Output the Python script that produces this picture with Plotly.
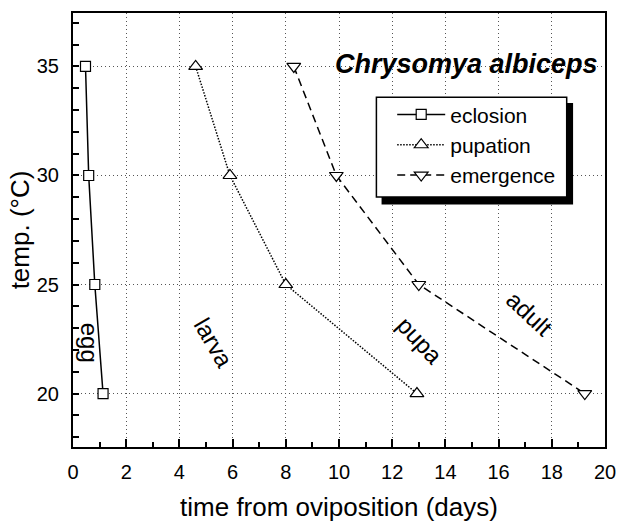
import plotly.graph_objects as go

temps = [35, 30, 25, 20]
eclosion = [0.47, 0.59, 0.82, 1.13]
pupation = [4.61, 5.9, 8.0, 12.93]
emergence = [8.3, 9.9, 13.0, 19.24]

stage_labels = ["egg", "larva", "pupa", "adult"]
stage_x = [0.62, 5.3, 13.05, 17.15]
stage_y = [22.31, 22.3, 22.44, 23.65]
stage_angles = [90, 60, 47, 43]

FONT = "Liberation Sans, Arial, sans-serif"

fig = go.Figure()
fig.add_trace(go.Scatter(x=eclosion, y=temps, name="eclosion", mode="lines+markers",
                         line=dict(color="black", width=1.5, dash="solid"),
                         marker=dict(symbol="square", size=10, color="white",
                                     line=dict(width=1.2, color="black"))))
fig.add_trace(go.Scatter(x=pupation, y=temps, name="pupation", mode="lines+markers",
                         line=dict(color="black", width=1.5, dash="1.5px,1.5px"),
                         marker=dict(symbol="triangle-up", size=12, color="white",
                                     line=dict(width=1.2, color="black"))))
fig.add_trace(go.Scatter(x=emergence, y=temps, name="emergence", mode="lines+markers",
                         line=dict(color="black", width=1.5, dash="8px,5px"),
                         marker=dict(symbol="triangle-down", size=12, color="white",
                                     line=dict(width=1.2, color="black"))))

for t, x, y, a in zip(stage_labels, stage_x, stage_y, stage_angles):
    fig.add_annotation(x=x, y=y, text=t, textangle=a, showarrow=False,
                       font=dict(family=FONT, size=24, color="black"))

fig.add_annotation(x=14.8, y=35.1, text="<b><i>Chrysomya albiceps</i></b>", showarrow=False,
                   font=dict(family=FONT, size=27, color="black"))

# legend shadow and box
fig.add_shape(type="rect", xref="paper", yref="paper", x0=0.580, x1=0.940, y0=0.5585, y1=0.7926,
              fillcolor="black", line=dict(width=0), layer="above")
fig.add_shape(type="rect", xref="paper", yref="paper", x0=0.5703, x1=0.928, y0=0.576, y1=0.8058,
              fillcolor="white", line=dict(width=1.5, color="black"), layer="above")

fig.update_layout(
    width=620, height=522,
    margin=dict(l=73, r=15, t=13, b=75),
    plot_bgcolor="white", paper_bgcolor="white",
    font=dict(family=FONT, size=20, color="black"),
    showlegend=True,
    legend=dict(x=0.6, y=0.8127, xanchor="left", yanchor="top", bgcolor="rgba(0,0,0,0)",
                borderwidth=0, font=dict(size=21),
                itemwidth=48, tracegroupgap=0),
)
fig.update_xaxes(range=[0, 20], dtick=2, tick0=0, ticks="inside", ticklen=8, tickwidth=1.5,
                 tickcolor="black", showline=True, linecolor="black", linewidth=2, mirror=True,
                 showgrid=True, gridcolor="#555", griddash="1px,3px", gridwidth=1, zeroline=False,
                 minor=dict(dtick=1, ticks="inside", ticklen=5, tickwidth=1.5, tickcolor="black", showgrid=False),
                 title=dict(text="time from oviposition (days)", font=dict(size=26), standoff=17),
                 tickfont=dict(size=20), ticklabelstandoff=6, automargin=False)
fig.update_yaxes(range=[17.55, 37.45], dtick=5, tick0=20, ticks="inside", ticklen=6, tickwidth=1.5,
                 tickcolor="black", showline=True, linecolor="black", linewidth=2, mirror=True,
                 showgrid=True, gridcolor="#555", griddash="1px,3px", gridwidth=1, zeroline=False,
                 minor=dict(dtick=1, ticks="inside", ticklen=6, tickwidth=1.5, tickcolor="black", showgrid=False),
                 title=dict(text="temp. (°C)", font=dict(size=26), standoff=0),
                 tickfont=dict(size=20), ticklabelstandoff=8, automargin=False)

fig.write_html("out.html", config={"displayModeBar": False},
               post_script="document.body.style.margin='0';")
